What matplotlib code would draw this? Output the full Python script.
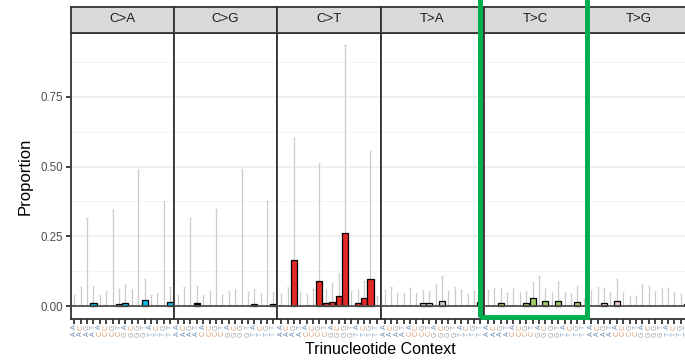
import matplotlib
matplotlib.use("Agg")
import matplotlib.pyplot as plt
import matplotlib.patches as patches
import matplotlib.transforms as mtransforms

plt.rcParams['font.family'] = ['Liberation Sans', 'DejaVu Sans']

# data
mut_types = ["C>A", "C>G", "C>T", "T>A", "T>C", "T>G"]
mut_colors = ["#03BCEE", "#010101", "#E32926", "#CAC9C9", "#A1CE63", "#EBC6C4"]
first_base = ["A"] * 4 + ["C"] * 4 + ["G"] * 4 + ["T"] * 4
last_base = ["A", "C", "G", "T"] * 4

ca_vals = [0, 0, 0, 0.012, 0, 0, 0, 0.008, 0.012, 0, 0, 0.023, 0, 0, 0, 0.016]
ca_upper = [0.039, 0.068, 0.315, 0.072, 0.039, 0.056, 0.349, 0.060, 0.081, 0.060, 0.490, 0.097, 0.039, 0.048, 0.376, 0.068]
cg_vals = [0, 0, 0, 0.012, 0, 0, 0, 0, 0, 0, 0, 0, 0.008, 0, 0, 0.008]
cg_upper = [0.039, 0.068, 0.315, 0.072, 0.039, 0.056, 0.349, 0.039, 0.056, 0.060, 0.490, 0.051, 0.060, 0.048, 0.376, 0.051]
ct_vals = [0, 0, 0.167, 0, 0, 0, 0.092, 0.012, 0.016, 0.036, 0.261, 0, 0.012, 0.028, 0.099, 0]
ct_upper = [0.042, 0.069, 0.604, 0.050, 0.042, 0.060, 0.514, 0.062, 0.084, 0.120, 0.935, 0.054, 0.062, 0.090, 0.556, 0.038]
ta_vals = [0, 0, 0, 0, 0, 0, 0.012, 0.012, 0, 0.019, 0, 0, 0, 0, 0, 0.015]
ta_upper = [0.057, 0.069, 0.048, 0.048, 0.066, 0.048, 0.057, 0.054, 0.081, 0.108, 0.054, 0.069, 0.057, 0.045, 0.054, 0.035]
tc_vals = [0, 0, 0.012, 0, 0, 0, 0.012, 0.030, 0, 0.019, 0, 0.019, 0, 0, 0.016, 0]
tc_upper = [0.057, 0.066, 0.066, 0.048, 0.066, 0.050, 0.054, 0.087, 0.108, 0.066, 0.050, 0.092, 0.050, 0.044, 0.074, 0.030]
tg_vals = [0, 0, 0.012, 0, 0.019, 0, 0, 0, 0, 0, 0, 0, 0, 0, 0, 0.007]
tg_upper = [0.057, 0.069, 0.066, 0.050, 0.096, 0.050, 0.038, 0.038, 0.080, 0.074, 0.054, 0.066, 0.066, 0.050, 0.045, 0.054]

all_vals = [ca_vals, cg_vals, ct_vals, ta_vals, tc_vals, tg_vals]
all_upper = [ca_upper, cg_upper, ct_upper, ta_upper, tc_upper, tg_upper]

base_colors = {"A": "#6f8fb5", "C": "#d99b6c", "G": "#a3a3a3", "T": "#8fa9c4"}

W, H = 685, 361
fig = plt.figure(figsize=(W / 100, H / 100), dpi=100)

panel_l0 = 70.5
panel_w = 103.4
panel_top = 32.5
panel_bot = 318.5
strip_h = 26

x = list(range(1, 17))

for i, mut in enumerate(mut_types):
    L = panel_l0 + i * panel_w
    ax = fig.add_axes([L / W, (H - panel_bot) / H, panel_w / W, (panel_bot - panel_top) / H])
    ax.set_xlim(0.4, 16.6)
    ax.set_ylim(-0.044, 0.98)

    for y in [0.125, 0.375, 0.625, 0.875]:
        ax.axhline(y, color="#f3f3f3", lw=0.6, zorder=0)
    for y in [0.25, 0.5, 0.75]:
        ax.axhline(y, color="#ebebeb", lw=1.1, zorder=0)

    vals = all_vals[i]
    upper = all_upper[i]
    ax.vlines(x, vals, upper, color="#cccccc", lw=0.9, zorder=1)
    ax.hlines(upper, [p - 0.1 for p in x], [p + 0.1 for p in x], color="#cccccc", lw=0.9, zorder=1)

    bx = [p for p, v in zip(x, vals) if v > 0]
    bv = [v for v in vals if v > 0]
    ax.bar(bx, bv, width=0.95, color=mut_colors[i], edgecolor="black", lw=0.9, zorder=2)
    ax.axhline(0, color="#4d4d4d", lw=1.3, zorder=3)

    for s in ax.spines.values():
        s.set_color("#333333")
        s.set_linewidth(1.3)

    ax.set_xticks(x)
    ax.set_xticklabels([])
    ax.tick_params(axis="x", length=3.5, width=1.3, color="#333333")
    if i == 0:
        ax.set_yticks([0, 0.25, 0.5, 0.75])
        ax.set_yticklabels(["0.00", "0.25", "0.50", "0.75"], fontsize=8.3, color="#4d4d4d")
        ax.tick_params(axis="y", length=3.5, width=1.3, color="#333333", pad=2)
    else:
        ax.set_yticks([])

    trans = mtransforms.blended_transform_factory(ax.transData, fig.transFigure)
    for p, fb, lb in zip(x, first_base, last_base):
        ax.text(p, (H - 327) / H, lb, transform=trans, rotation=90, fontsize=5,
                ha="center", va="center", color=base_colors[lb], clip_on=False)
        ax.text(p, (H - 334) / H, fb, transform=trans, rotation=90, fontsize=5,
                ha="center", va="center", color=base_colors[fb], clip_on=False)

    sax = fig.add_axes([L / W, (H - panel_top) / H, panel_w / W, strip_h / H])
    sax.set_facecolor("#d9d9d9")
    sax.set_xticks([])
    sax.set_yticks([])
    for s in sax.spines.values():
        s.set_color("#333333")
        s.set_linewidth(1.3)
    sax.text(0.5, 0.5, mut, ha="center", va="center", fontsize=9.5, color="#1a1a1a",
             transform=sax.transAxes)

fig.text(25 / W, 1 - 176 / H, "Proportion", rotation=90, ha="center", va="center", fontsize=12)
fig.text(380 / W, 1 - 350 / H, "Trinucleotide Context", ha="center", va="center", fontsize=11.5)

rect = patches.Rectangle((480 / W, (H - 316.5) / H), 107 / W, (316.5 + 10) / H,
                         fill=False, edgecolor="#00b050", lw=3.6,
                         transform=fig.transFigure, zorder=10, clip_on=False)
fig.add_artist(rect)

fig.savefig("out.png", dpi=100)
